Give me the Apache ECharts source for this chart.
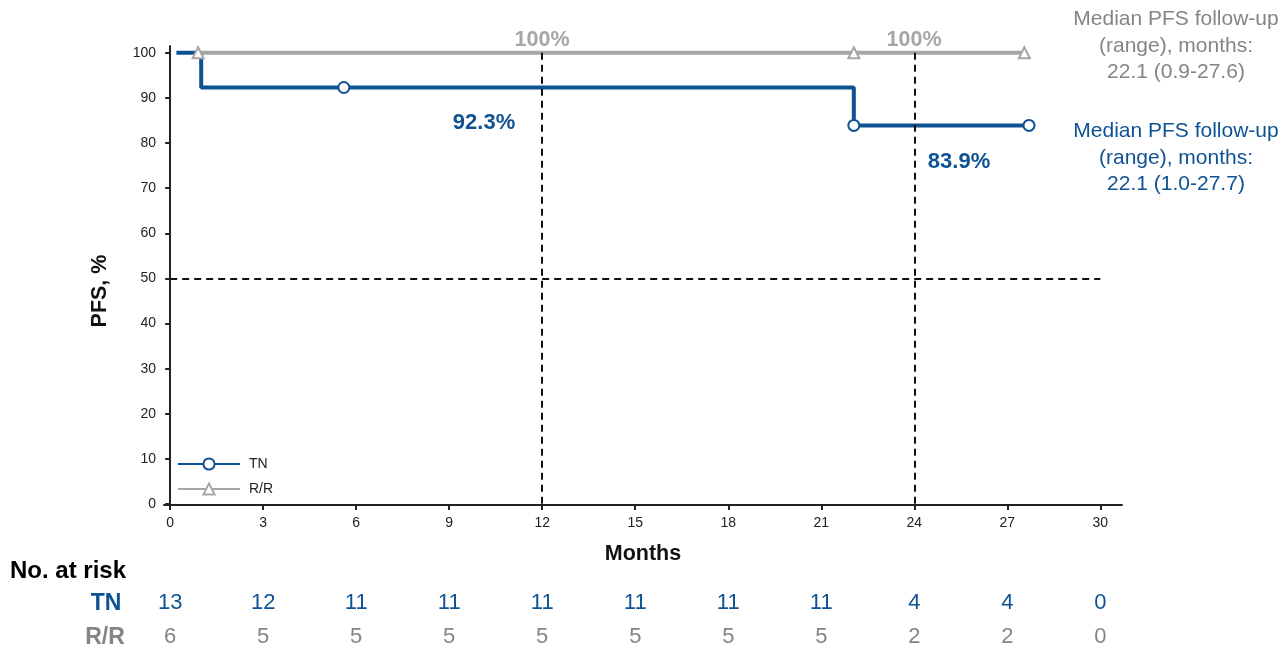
<!DOCTYPE html>
<html>
<head>
<meta charset="utf-8">
<script src="https://cdn.jsdelivr.net/npm/echarts@6/dist/echarts.min.js"></script>
<style>
html,body{margin:0;padding:0;background:#fff;}
#chart{width:1285px;height:648px;}
</style>
</head>
<body>
<div id="chart"></div>
<script>
// ---- data ----
var xTicks = [0, 3, 6, 9, 12, 15, 18, 21, 24, 27, 30];
var yTicks = [0, 10, 20, 30, 40, 50, 60, 70, 80, 90, 100];
var tnTime = [0.2, 1.0, 5.6, 22.05, 27.7];
var tnSurv = [100, 92.3, 92.3, 83.9, 83.9];
var tnCensor = [0, 0, 1, 1, 1];
var rrTime = [0.9, 22.05, 27.55];
var rrSurv = [100, 100, 100];
var rrCensor = [1, 1, 1];
var tnRisk = [13, 12, 11, 11, 11, 11, 11, 11, 4, 4, 0];
var rrRisk = [6, 5, 5, 5, 5, 5, 5, 5, 2, 2, 0];
var refX = [12, 24];
var refY = 50;

var BLUE = '#0f5293';
var GRAY = '#a6a6a6';
var GRAYTXT = '#858585';
var FONT = '"Liberation Sans", Arial, sans-serif';

function build(times, surv, cens, sym) {
  return times.map(function (t, i) {
    return { value: [t, surv[i]], symbol: cens[i] ? sym : 'none' };
  });
}

var chart = echarts.init(document.getElementById('chart'));

function riskAxis(values, color, offset) {
  return {
    type: 'value', min: -0.2, max: 30.7, position: 'bottom', offset: offset,
    axisLine: { show: false }, axisTick: { show: false }, splitLine: { show: false },
    axisLabel: {
      customValues: xTicks, margin: 8, fontSize: 22, color: color, fontFamily: FONT,
      formatter: function (v) { var i = xTicks.indexOf(Math.round(v)); return i >= 0 ? String(values[i]) : ''; }
    }
  };
}

var markLines = refX.map(function (x) {
  return [{ coord: [x, 100] }, { coord: [x, 0] }];
});
markLines.push([{ coord: [0, refY] }, { coord: [30, refY] }]);

var option = {
  animation: false,
  textStyle: { fontFamily: FONT },
  grid: { left: 164, width: 958, top: 46, height: 460 },
  legend: {
    left: 172, top: 452, orient: 'vertical', itemWidth: 62, itemHeight: 14, itemGap: 11,
    data: ['TN', 'R/R'],
    textStyle: { fontSize: 14, color: '#222', fontFamily: FONT, padding: [0, 0, 0, 4] }
  },
  xAxis: [{
    type: 'value', min: -0.2, max: 30.7,
    name: 'Months', nameLocation: 'middle', nameGap: 38,
    nameTextStyle: { fontSize: 21.5, fontWeight: 'bold', color: '#111', fontFamily: FONT },
    axisLine: { onZero: false, lineStyle: { color: '#222', width: 2 } },
    axisTick: { customValues: xTicks, length: 5, lineStyle: { color: '#222', width: 2 } },
    axisLabel: { customValues: xTicks, margin: 11, fontSize: 14, color: '#222', fontFamily: FONT },
    splitLine: { show: false }
  }, riskAxis(tnRisk, BLUE, 79), riskAxis(rrRisk, GRAYTXT, 113)],
  yAxis: {
    type: 'value', min: -0.2, max: 101.5,
    axisLine: { onZero: true, lineStyle: { color: '#222', width: 2 } },
    axisTick: { customValues: yTicks, length: 5, lineStyle: { color: '#222', width: 2 } },
    axisLabel: { customValues: yTicks, margin: 8, fontSize: 14, color: '#222', fontFamily: FONT },
    splitLine: { show: false }
  },
  series: [
    {
      name: 'ref', type: 'line', data: [], silent: true,
      markLine: {
        symbol: 'none', silent: true, label: { show: false },
        lineStyle: { color: '#111', width: 2, type: [7, 5] },
        data: markLines
      }
    },
    {
      name: 'TN', type: 'line', step: 'end',
      data: build(tnTime, tnSurv, tnCensor, 'emptyCircle'),
      symbol: 'emptyCircle', symbolSize: 11, showAllSymbol: true,
      lineStyle: { color: BLUE, width: 4 },
      itemStyle: { color: BLUE, borderWidth: 2 }
    },
    {
      name: 'R/R', type: 'line', step: 'end',
      data: build(rrTime, rrSurv, rrCensor, 'emptyTriangle'),
      symbol: 'emptyTriangle', symbolSize: 11, showAllSymbol: true,
      lineStyle: { color: GRAY, width: 4 },
      itemStyle: { color: GRAY, borderWidth: 2 }
    }
  ],
  graphic: [
    { type: 'text', x: 100, y: 291, rotation: Math.PI / 2, style: { text: 'PFS, %', fontSize: 21.5, fontWeight: 'bold', fill: '#111', fontFamily: FONT, align: 'center', verticalAlign: 'middle' } },
    { type: 'text', x: 542, y: 40, style: { text: '100%', fontSize: 21.5, fontWeight: 'bold', fill: GRAY, fontFamily: FONT, align: 'center', verticalAlign: 'middle' } },
    { type: 'text', x: 914, y: 40, style: { text: '100%', fontSize: 21.5, fontWeight: 'bold', fill: GRAY, fontFamily: FONT, align: 'center', verticalAlign: 'middle' } },
    { type: 'text', x: 484, y: 123, style: { text: '92.3%', fontSize: 22, fontWeight: 'bold', fill: BLUE, fontFamily: FONT, align: 'center', verticalAlign: 'middle' } },
    { type: 'text', x: 959, y: 162, style: { text: '83.9%', fontSize: 22, fontWeight: 'bold', fill: BLUE, fontFamily: FONT, align: 'center', verticalAlign: 'middle' } },
    { type: 'text', x: 1176, y: 46, style: { text: 'Median PFS follow-up\n(range), months:\n22.1 (0.9-27.6)', fontSize: 21, lineHeight: 26.5, fill: GRAYTXT, fontFamily: FONT, align: 'center', verticalAlign: 'middle' } },
    { type: 'text', x: 1176, y: 158, style: { text: 'Median PFS follow-up\n(range), months:\n22.1 (1.0-27.7)', fontSize: 21, lineHeight: 26.5, fill: BLUE, fontFamily: FONT, align: 'center', verticalAlign: 'middle' } },
    { type: 'text', x: 10, y: 571, style: { text: 'No. at risk', fontSize: 24, fontWeight: 'bold', fill: '#000', fontFamily: FONT, align: 'left', verticalAlign: 'middle' } },
    { type: 'text', x: 106, y: 604, style: { text: 'TN', fontSize: 23, fontWeight: 'bold', fill: BLUE, fontFamily: FONT, align: 'center', verticalAlign: 'middle' } },
    { type: 'text', x: 105, y: 638, style: { text: 'R/R', fontSize: 23, fontWeight: 'bold', fill: GRAYTXT, fontFamily: FONT, align: 'center', verticalAlign: 'middle' } }
  ]
};
chart.setOption(option);
</script>
</body>
</html>
